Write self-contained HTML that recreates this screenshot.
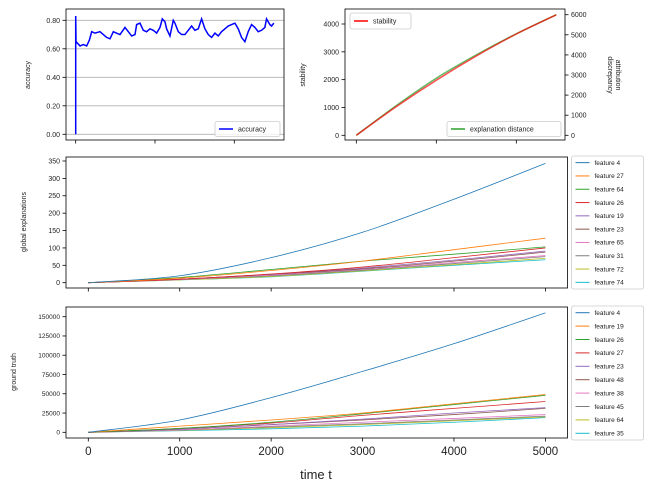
<!DOCTYPE html>
<html><head><meta charset="utf-8"><style>
body{margin:0;background:#fff;}
svg{display:block;font-family:"Liberation Sans","DejaVu Sans",sans-serif;}
</style></head><body>
<svg id="fig" width="651" height="491" viewBox="0 0 651 491" xmlns="http://www.w3.org/2000/svg"></svg>
<script>
// ---------- data ----------
const accTime = [0,0,8,109,193,277,344,403,487,613,697,781,865,949,1033,1117,1243,1327,1411,1495,1537,1621,1705,1789,1873,1957,2041,2125,2184,2251,2293,2377,2461,2503,2587,2671,2755,2839,2923,3007,3091,3175,3259,3343,3427,3511,3595,3679,3763,3847,3931,4015,4099,4183,4267,4351,4435,4519,4603,4687,4771,4813,4897,4939,4998];
const accVals = [0.00,0.83,0.65,0.62,0.63,0.62,0.66,0.72,0.71,0.72,0.70,0.68,0.67,0.72,0.71,0.70,0.75,0.72,0.69,0.70,0.77,0.78,0.73,0.72,0.74,0.73,0.71,0.75,0.81,0.79,0.74,0.69,0.80,0.78,0.72,0.70,0.70,0.73,0.76,0.73,0.74,0.81,0.74,0.70,0.68,0.71,0.69,0.72,0.74,0.76,0.77,0.78,0.74,0.68,0.65,0.72,0.77,0.75,0.72,0.73,0.75,0.81,0.77,0.76,0.78];
const accTicks = [0.00,0.20,0.40,0.60,0.80];

const stabTime = [0,1000,2000,3000,4000,5000];
const stabVals = [0,1030,1980,2850,3640,4330];
const distVals = [0,1480,2840,4000,5050,6000];
const stabTicks = [0,1000,2000,3000,4000];
const distTicks = [0,1000,2000,3000,4000,5000,6000];

const featTime = [0,1000,2000,3000,4000,5000];
const globNames = ["feature 4","feature 27","feature 64","feature 26","feature 19","feature 23","feature 65","feature 31","feature 72","feature 74"];
const globVals = [
 [0,20,72,145,240,343],
 [0,13,35,62,95,128],
 [0,15,38,62,82,103],
 [0,10,25,45,72,100],
 [0,10,24,42,65,91],
 [0,10,24,40,62,88],
 [0,9,22,38,58,78],
 [0,9,20,36,55,75],
 [0,8,18,34,52,70],
 [0,8,17,33,50,66]];
const globTicks = [0,50,100,150,200,250,300,350];
const gtNames = ["feature 4","feature 19","feature 26","feature 27","feature 23","feature 48","feature 38","feature 45","feature 64","feature 35"];
const gtVals = [
 [0,16000,45000,79000,115000,155000],
 [0,8000,16000,25000,37000,49000],
 [0,5000,13000,24000,36000,48000],
 [0,5000,12000,22000,31000,40000],
 [0,4000,10000,17000,25000,32000],
 [0,4000,10000,16000,23000,31000],
 [0,3000,8000,13000,18000,23000],
 [0,3000,7000,11000,16000,21000],
 [0,2500,6000,10000,15000,20000],
 [0,2000,4500,8000,13000,19000]];
const gtTicks = [0,25000,50000,75000,100000,125000,150000];
const timeTicks = [0,1000,2000,3000,4000,5000];
const colors = ["#1f77b4","#ff7f0e","#2ca02c","#d62728","#9467bd","#8c564b","#e377c2","#7f7f7f","#bcbd22","#17becf"];

// ---------- helpers ----------
const svg = document.getElementById('fig');
const NS = "http://www.w3.org/2000/svg";
function mk(tag, attrs, parent){const e=document.createElementNS(NS,tag);for(const k in attrs)e.setAttribute(k,attrs[k]);(parent||svg).appendChild(e);return e;}
function lin(d0,d1,r0,r1){return v=>r0+(v-d0)*(r1-r0)/(d1-d0);}
function pathD(xs,ys,fx,fy){return xs.map((x,i)=>(i?'L':'M')+fx(x).toFixed(2)+' '+fy(ys[i]).toFixed(2)).join(' ');}
function smoothPath(xs,ys,fx,fy){
  const P=xs.map((x,i)=>[fx(x),fy(ys[i])]);let d='M'+P[0][0]+' '+P[0][1];
  for(let i=0;i<P.length-1;i++){const p0=P[i-1]||P[i],p1=P[i],p2=P[i+1],p3=P[i+2]||P[i+1];
    d+=' C'+(p1[0]+(p2[0]-p0[0])/6)+' '+(p1[1]+(p2[1]-p0[1])/6)+' '+(p2[0]-(p3[0]-p1[0])/6)+' '+(p2[1]-(p3[1]-p1[1])/6)+' '+p2[0]+' '+p2[1];}
  return d;}
function frame(x0,y0,x1,y1,name){const r=mk('rect',{x:x0,y:y0,width:x1-x0,height:y1-y0,fill:'none',stroke:'#000','stroke-width':0.8});}
function yTicks(ticks,fy,x,fmt,size,name,right){
  const g=mk('g',{});
  ticks.forEach(t=>{const y=fy(t);
    mk('line',{x1:x,x2:right?x+3.5:x-3.5,y1:y,y2:y,stroke:'#000','stroke-width':0.8},g);
    const tx=mk('text',{x:right?x+6:x-6,y:y+size*0.35,'font-size':size,'text-anchor':right?'start':'end',fill:'#222'},g);tx.textContent=fmt(t);});}
function xTicks(ticks,fx,y,labels,size,name){
  const g=mk('g',{});
  ticks.forEach(t=>{const x=fx(t);mk('line',{x1:x,x2:x,y1:y,y2:y+3.5,stroke:'#000','stroke-width':0.8},g);
    if(labels){const tx=mk('text',{x:x,y:y+17,'font-size':size,'text-anchor':'middle',fill:'#222'},g);tx.textContent=t;}});}
function rotLabel(txt,x,y,size,name,ang){const t=mk('text',{x:x,y:y,'font-size':size,'text-anchor':'middle',fill:'#222',transform:`rotate(${ang||-90} ${x} ${y})`});t.textContent=txt;return t;}
function legendBox(x,y,w,h,entries,size,name,lw){
  const g=mk('g',{});
  mk('rect',{x:x,y:y,width:w,height:h,fill:'#fff','fill-opacity':0.8,stroke:'#ccc','stroke-width':0.8,rx:2},g);
  const step=h/entries.length;
  entries.forEach((e,i)=>{const cy=y+step*(i+0.5);
    const eg=mk('g',{},g);
    mk('line',{x1:x+4,x2:x+18,y1:cy,y2:cy,stroke:e[1],'stroke-width':lw},eg);
    const t=mk('text',{x:x+23,y:cy+size*0.35,'font-size':size,fill:'#222'},eg);t.textContent=e[0];});}

// ---------- panel 1: accuracy ----------
{const fx=lin(0,2000,75.7,155),fy=lin(0,0.8,134.3,20.3);
 const g=mk('g',{});
 accTicks.forEach(t=>mk('line',{x1:66,x2:284,y1:fy(t),y2:fy(t),stroke:'#b0b0b0','stroke-width':0.8},g));
 const p=mk('path',{d:pathD(accTime,accVals,fx,fy),fill:'none',stroke:'#0000ff','stroke-width':1.5});
 
 frame(66,9,284,140,'accuracy-axes');
 yTicks(accTicks,fy,66,v=>v.toFixed(2),7,'accuracy-y-ticks');
 xTicks([0,2000,4000],fx,140,false,7,'accuracy-x-ticks');
 rotLabel('accuracy',30,75,7,'accuracy-y-title');
 legendBox(215,121.5,65,15,[['accuracy','#0000ff']],7,'accuracy-legend',1.5);}

// ---------- panel 2: stability ----------
{const fx=lin(0,2000,356.3,436.3),fy=lin(0,4000,135.3,24),fy2=lin(0,6000,135.3,14.7);
 const p2=mk('path',{d:smoothPath(stabTime,distVals,fx,fy2),fill:'none',stroke:'#2ca02c','stroke-width':1.5,'stroke-opacity':0.75});
 
 const p=mk('path',{d:smoothPath(stabTime,stabVals,fx,fy),fill:'none',stroke:'#ff0000','stroke-width':1.5,'stroke-opacity':0.7});
 
 frame(345,9,565,140,'stability-axes');
 yTicks(stabTicks,fy,345,v=>v,7,'stability-y-ticks');
 yTicks(distTicks,fy2,565,v=>v,7,'distance-y-ticks',true);
 xTicks([0,2000,4000],fx,140,false,7,'stability-x-ticks');
 rotLabel('stability',305,75,7,'stability-y-title');
 rotLabel('attribution',616,75,7,'discrepancy-y-title',90);
 rotLabel('discrepancy',608,75,7,'discrepancy-y-title-2',90);
 legendBox(350,13,61,16,[['stability','#ff0000']],7,'stability-legend',1.5);
 legendBox(447,121.5,114,15,[['explanation distance','#2ca02c']],7,'distance-legend',1.5);}

// ---------- panel 3: global explanations ----------
{const fx=lin(0,5000,88.3,545.4),fy=lin(0,350,282.7,161);
 for(let i=globVals.length-1;i>=0;i--){const p=mk('path',{d:smoothPath(featTime,globVals[i],fx,fy),fill:'none',stroke:colors[i],'stroke-width':0.8});
  }
 frame(66,157,567.5,288,'global-axes');
 yTicks(globTicks,fy,66,v=>v,7,'global-y-ticks');
 xTicks(timeTicks,fx,288,false,7,'global-x-ticks');
 rotLabel('global explanations',26,222,7,'global-y-title');
 legendBox(571.5,156,72,133,globNames.map((n,i)=>[n,colors[i]]),6.5,'global-legend',1);}

// ---------- panel 4: ground truth ----------
{const fx=lin(0,5000,88.3,545.4),fy=lin(0,150000,432.3,316.7);
 for(let i=gtVals.length-1;i>=0;i--){const p=mk('path',{d:smoothPath(featTime,gtVals[i],fx,fy),fill:'none',stroke:colors[i],'stroke-width':0.8});
  }
 frame(66,307,567.5,438,'truth-axes');
 yTicks(gtTicks,fy,66,v=>v,6.5,'truth-y-ticks');
 xTicks(timeTicks,fx,438,true,11.5,'time-x-ticks');
 rotLabel('ground truth',16,372,7,'truth-y-title');
 legendBox(571.5,306,72,134,gtNames.map((n,i)=>[n,colors[i]]),6.5,'truth-legend',1);
 const t=mk('text',{x:316,y:479,'font-size':13,'text-anchor':'middle',fill:'#222'});t.textContent='time t';
 }
</script>
</body></html>
